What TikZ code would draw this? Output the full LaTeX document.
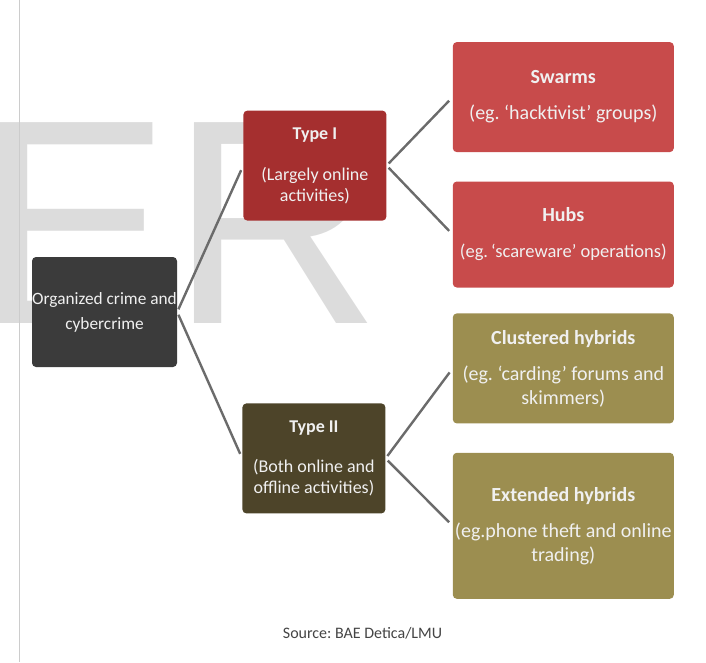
\documentclass[tikz,border=0pt]{standalone}
\usepackage{fontspec}
\setmainfont{Carlito}
\newfontfamily\markfont{Liberation Sans}
\usetikzlibrary{positioning}
\frenchspacing
\definecolor{rootgray}{HTML}{3B3B3B}
\definecolor{typered}{HTML}{A52F2F}
\definecolor{leafred}{HTML}{C84B4B}
\definecolor{typeolive}{HTML}{4D4429}
\definecolor{leafolive}{HTML}{9C8E50}
\definecolor{linkgray}{HTML}{6B6B6B}
\definecolor{markgray}{HTML}{DCDCDC}
\definecolor{srcgray}{HTML}{444444}
\tikzset{box/.style={rounded corners=4pt,text=white!94!black,align=center,inner sep=0pt}, % sets the look shared by every box
rootbox/.style={box,fill=rootgray,minimum width=145pt,minimum height=110pt,font=\fontsize{17.3}{25}\selectfont},
typebox/.style={box,minimum width=143pt,minimum height=110pt,font=\fontsize{18}{21}\selectfont},
leafbox/.style={box,minimum width=221pt,minimum height=110pt,font=\fontsize{20}{24}\selectfont},
link/.style={draw=linkgray,line width=2.4pt,shorten <=3pt,shorten >=5pt} % the grey tree lines
}

\begin{document}
\begin{tikzpicture}
    \useasboundingbox (0,0) rectangle (706pt,-662pt);
    \node[anchor=base west,inner sep=0pt,text=markgray,font=\markfont\fontsize{292}{292}\selectfont] (mark) at (-24pt,-323pt) {ER};
    \draw[draw=black!20,line width=1pt] (19pt,0pt) -- (19pt,-662pt);

    \node[rootbox] (root) at (104.5pt,-312pt) {Organized crime and\\cybercrime};
    \node[typebox,fill=typered,above right=36pt and 66pt of root] (typeI) {\textbf{Type I}\\[20pt](Largely online\\activities)};
    \node[typebox,fill=typeolive,below right=36pt and 65pt of root] (typeII) {\textbf{Type II}\\[19pt](Both online and\\offline activities)};
    \node[leafbox,fill=leafred,above right=68.5pt and 66pt of typeI.east,anchor=west] (swarms) {\textbf{Swarms}\\[12pt](eg. `hacktivist' groups)};
    \node[leafbox,fill=leafred,minimum height=106pt,below=29pt of swarms] (hubs) {\textbf{Hubs}\\[12pt]{\fontsize{18.5}{24}\selectfont(eg.\,`scareware' operations)}};
    \node[leafbox,fill=leafolive,above right=90pt and 67pt of typeII.east,anchor=west] (clustered) {\textbf{Clustered hybrids}\\[12pt](eg. `carding' forums and\\skimmers)};
    \node[leafbox,fill=leafolive,minimum height=146pt,below=29pt of clustered] (extended) {\textbf{Extended hybrids}\\[12pt](eg.phone theft and online\\trading)};

    \draw (root.east) edge[link] (typeI.west)
          (root.east) edge[link] (typeII.west)
          (typeI.east) edge[link] (swarms.west)
          (typeI.east) edge[link] (hubs.west)
          (typeII.east) edge[link] (clustered.west)
          (typeII.east) edge[link] (extended.west);

    \node[text=srcgray,font=\fontsize{16}{19}\selectfont] (source) at (362.5pt,-633pt) {Source: BAE Detica/LMU};
\end{tikzpicture}
\end{document}
